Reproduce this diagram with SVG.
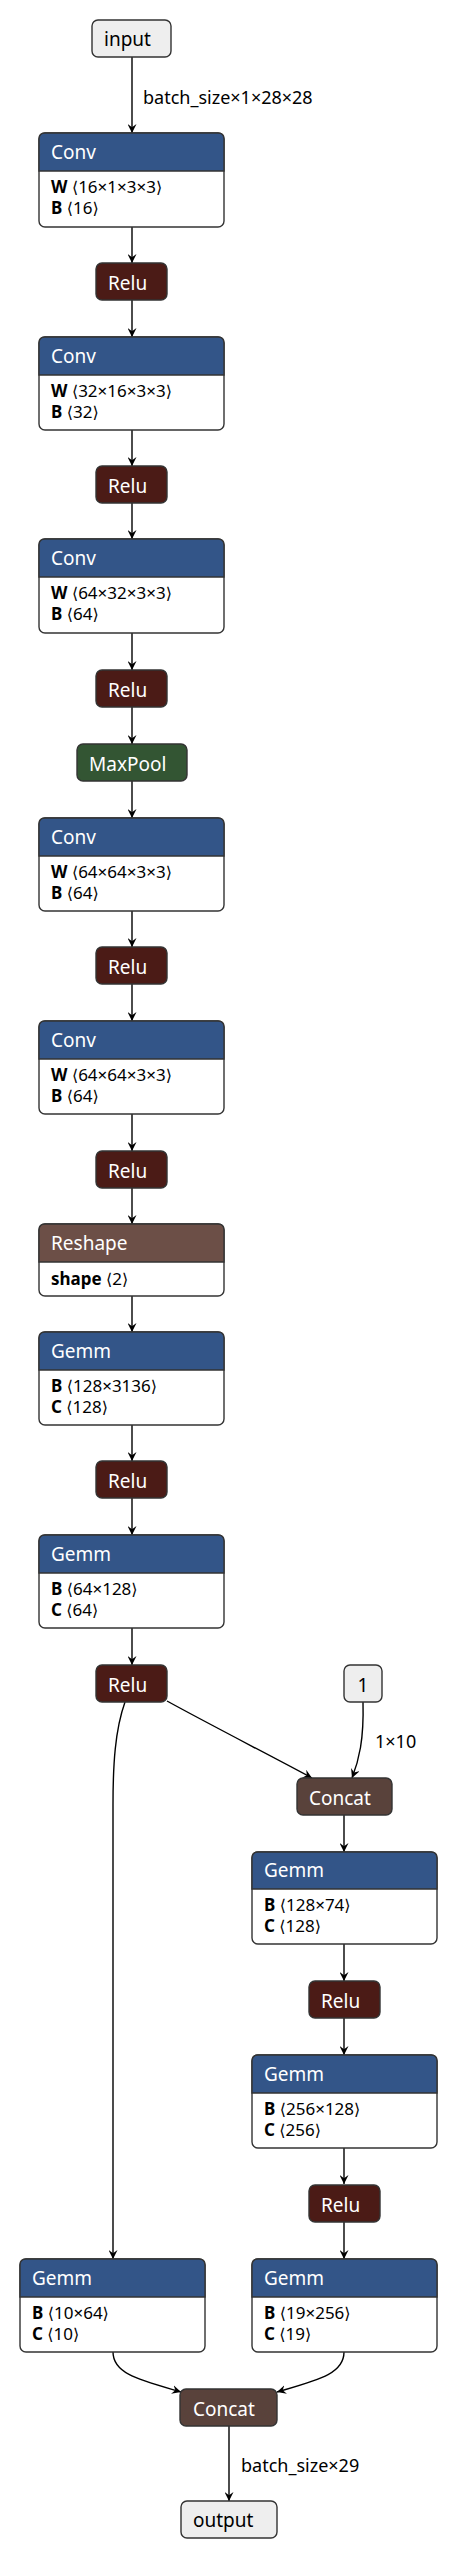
<svg xmlns="http://www.w3.org/2000/svg" width="459" height="2560" viewBox="0 0 459 2560">
<defs>
<style>
text{font-family:"Noto Sans","DejaVu Sans",sans-serif;}
.bg{fill:#ffffff;}
.box{stroke:#333333;stroke-width:1.4;}
.hd{fill:#ffffff;font-size:19px;}
.io{fill:#000000;font-size:19px;}
.bd{fill:#000000;font-size:17px;}
.bd tspan.n{font-weight:bold;}
.bd tspan.b{font-family:"DejaVu Sans",sans-serif;font-size:16px;}
.lbl{fill:#000000;font-size:18px;}
.layer{fill:#335588;}
.act{fill:#4b1b16;}
.pool{fill:#335533;}
.shape{fill:#6c4f47;}
.tensor{fill:#59423b;}
.inout{fill:#eeeeee;}
.white{fill:#ffffff;}
.e{fill:none;stroke:#000000;stroke-width:1.4;marker-end:url(#arr);}
</style>
<marker id="arr" viewBox="0 0 10 10" refX="10" refY="5" markerWidth="9" markerHeight="9" markerUnits="userSpaceOnUse" orient="auto">
<path d="M0,0 L10,5 L0,10 L3.5,5 z" fill="#000000"/>
</marker>
</defs>
<rect x="0" y="0" width="459" height="2560" class="bg"/>

<g id="edges">
<path class="e" d="M132,57 L132,133"/>
<path class="e" d="M132,227 L132,263"/>
<path class="e" d="M132,300 L132,337"/>
<path class="e" d="M132,430 L132,466"/>
<path class="e" d="M132,503 L132,539"/>
<path class="e" d="M132,633 L132,670"/>
<path class="e" d="M132,707 L132,744"/>
<path class="e" d="M132,781 L132,818"/>
<path class="e" d="M132,911 L132,947"/>
<path class="e" d="M132,984 L132,1021"/>
<path class="e" d="M132,1114 L132,1151"/>
<path class="e" d="M132,1188 L132,1224"/>
<path class="e" d="M132,1296 L132,1332"/>
<path class="e" d="M132,1425 L132,1461"/>
<path class="e" d="M132,1498 L132,1535"/>
<path class="e" d="M132,1628 L132,1665"/>
<path class="e" d="M125,1702 C115,1730 113,1765 113,1805 L113,2259"/>
<path class="e" d="M167,1701 C205,1722 275,1758 312,1778"/>
<path class="e" d="M363,1702 C364,1740 359,1760 352,1778"/>
<path class="e" d="M344,1815 L344,1852"/>
<path class="e" d="M344,1944 L344,1981"/>
<path class="e" d="M344,2018 L344,2055"/>
<path class="e" d="M344,2148 L344,2184"/>
<path class="e" d="M344,2222 L344,2259"/>
<path class="e" d="M113,2352 C113,2374 140,2380 181,2392"/>
<path class="e" d="M344,2352 C344,2374 318,2380 277,2392"/>
<path class="e" d="M229,2426 L229,2501"/>
<text class="lbl" x="143" y="104">batch_size×1×28×28</text>
<text class="lbl" x="375" y="1748">1×10</text>
<text class="lbl" x="241" y="2472">batch_size×29</text>
</g>

<g id="input">
<rect x="92" y="20" width="79" height="37" rx="6" class="inout box"/>
<text class="io" x="104" y="46">input</text>
</g>

<g id="conv1">
<rect x="39" y="133" width="185" height="94" rx="6" class="white box"/>
<path d="M39,171 L39,139 Q39,133 45,133 L218,133 Q224,133 224,139 L224,171 Z" class="layer box"/>
<text class="hd" x="51" y="159">Conv</text>
<text class="bd" x="51" y="193"><tspan class="n">W</tspan> <tspan class="b">⟨</tspan>16×1×3×3<tspan class="b">⟩</tspan></text>
<text class="bd" x="51" y="214"><tspan class="n">B</tspan> <tspan class="b">⟨</tspan>16<tspan class="b">⟩</tspan></text>
</g>
<g id="relu1">
<rect x="96" y="263" width="71" height="37" rx="6" class="act box"/>
<text class="hd" x="108" y="290">Relu</text>
</g>

<g id="conv2">
<rect x="39" y="337" width="185" height="93" rx="6" class="white box"/>
<path d="M39,375 L39,343 Q39,337 45,337 L218,337 Q224,337 224,343 L224,375 Z" class="layer box"/>
<text class="hd" x="51" y="363">Conv</text>
<text class="bd" x="51" y="397"><tspan class="n">W</tspan> <tspan class="b">⟨</tspan>32×16×3×3<tspan class="b">⟩</tspan></text>
<text class="bd" x="51" y="418"><tspan class="n">B</tspan> <tspan class="b">⟨</tspan>32<tspan class="b">⟩</tspan></text>
</g>
<g id="relu2">
<rect x="96" y="466" width="71" height="37" rx="6" class="act box"/>
<text class="hd" x="108" y="493">Relu</text>
</g>

<g id="conv3">
<rect x="39" y="539" width="185" height="94" rx="6" class="white box"/>
<path d="M39,577 L39,545 Q39,539 45,539 L218,539 Q224,539 224,545 L224,577 Z" class="layer box"/>
<text class="hd" x="51" y="565">Conv</text>
<text class="bd" x="51" y="599"><tspan class="n">W</tspan> <tspan class="b">⟨</tspan>64×32×3×3<tspan class="b">⟩</tspan></text>
<text class="bd" x="51" y="620"><tspan class="n">B</tspan> <tspan class="b">⟨</tspan>64<tspan class="b">⟩</tspan></text>
</g>
<g id="relu3">
<rect x="96" y="670" width="71" height="37" rx="6" class="act box"/>
<text class="hd" x="108" y="697">Relu</text>
</g>

<g id="maxpool">
<rect x="77" y="744" width="110" height="37" rx="6" class="pool box"/>
<text class="hd" x="89" y="771">MaxPool</text>
</g>

<g id="conv4">
<rect x="39" y="818" width="185" height="93" rx="6" class="white box"/>
<path d="M39,856 L39,824 Q39,818 45,818 L218,818 Q224,818 224,824 L224,856 Z" class="layer box"/>
<text class="hd" x="51" y="844">Conv</text>
<text class="bd" x="51" y="878"><tspan class="n">W</tspan> <tspan class="b">⟨</tspan>64×64×3×3<tspan class="b">⟩</tspan></text>
<text class="bd" x="51" y="899"><tspan class="n">B</tspan> <tspan class="b">⟨</tspan>64<tspan class="b">⟩</tspan></text>
</g>
<g id="relu4">
<rect x="96" y="947" width="71" height="37" rx="6" class="act box"/>
<text class="hd" x="108" y="974">Relu</text>
</g>

<g id="conv5">
<rect x="39" y="1021" width="185" height="93" rx="6" class="white box"/>
<path d="M39,1059 L39,1027 Q39,1021 45,1021 L218,1021 Q224,1021 224,1027 L224,1059 Z" class="layer box"/>
<text class="hd" x="51" y="1047">Conv</text>
<text class="bd" x="51" y="1081"><tspan class="n">W</tspan> <tspan class="b">⟨</tspan>64×64×3×3<tspan class="b">⟩</tspan></text>
<text class="bd" x="51" y="1102"><tspan class="n">B</tspan> <tspan class="b">⟨</tspan>64<tspan class="b">⟩</tspan></text>
</g>
<g id="relu5">
<rect x="96" y="1151" width="71" height="37" rx="6" class="act box"/>
<text class="hd" x="108" y="1178">Relu</text>
</g>

<g id="reshape">
<rect x="39" y="1224" width="185" height="72" rx="6" class="white box"/>
<path d="M39,1262 L39,1230 Q39,1224 45,1224 L218,1224 Q224,1224 224,1230 L224,1262 Z" class="shape box"/>
<text class="hd" x="51" y="1250">Reshape</text>
<text class="bd" x="51" y="1285"><tspan class="n">shape</tspan> <tspan class="b">⟨</tspan>2<tspan class="b">⟩</tspan></text>
</g>

<g id="gemm1">
<rect x="39" y="1332" width="185" height="93" rx="6" class="white box"/>
<path d="M39,1370 L39,1338 Q39,1332 45,1332 L218,1332 Q224,1332 224,1338 L224,1370 Z" class="layer box"/>
<text class="hd" x="51" y="1358">Gemm</text>
<text class="bd" x="51" y="1392"><tspan class="n">B</tspan> <tspan class="b">⟨</tspan>128×3136<tspan class="b">⟩</tspan></text>
<text class="bd" x="51" y="1413"><tspan class="n">C</tspan> <tspan class="b">⟨</tspan>128<tspan class="b">⟩</tspan></text>
</g>
<g id="relu6">
<rect x="96" y="1461" width="71" height="37" rx="6" class="act box"/>
<text class="hd" x="108" y="1488">Relu</text>
</g>

<g id="gemm2">
<rect x="39" y="1535" width="185" height="93" rx="6" class="white box"/>
<path d="M39,1573 L39,1541 Q39,1535 45,1535 L218,1535 Q224,1535 224,1541 L224,1573 Z" class="layer box"/>
<text class="hd" x="51" y="1561">Gemm</text>
<text class="bd" x="51" y="1595"><tspan class="n">B</tspan> <tspan class="b">⟨</tspan>64×128<tspan class="b">⟩</tspan></text>
<text class="bd" x="51" y="1616"><tspan class="n">C</tspan> <tspan class="b">⟨</tspan>64<tspan class="b">⟩</tspan></text>
</g>
<g id="relu7">
<rect x="96" y="1665" width="71" height="37" rx="6" class="act box"/>
<text class="hd" x="108" y="1692">Relu</text>
</g>

<g id="const1">
<rect x="344" y="1665" width="38" height="37" rx="6" class="inout box"/>
<text class="io" x="363" y="1692" text-anchor="middle">1</text>
</g>

<g id="concat1">
<rect x="297" y="1778" width="95" height="37" rx="6" class="tensor box"/>
<text class="hd" x="309" y="1805">Concat</text>
</g>

<g id="gemm3">
<rect x="252" y="1852" width="185" height="92" rx="6" class="white box"/>
<path d="M252,1889 L252,1858 Q252,1852 258,1852 L431,1852 Q437,1852 437,1858 L437,1889 Z" class="layer box"/>
<text class="hd" x="264" y="1877">Gemm</text>
<text class="bd" x="264" y="1911"><tspan class="n">B</tspan> <tspan class="b">⟨</tspan>128×74<tspan class="b">⟩</tspan></text>
<text class="bd" x="264" y="1932"><tspan class="n">C</tspan> <tspan class="b">⟨</tspan>128<tspan class="b">⟩</tspan></text>
</g>
<g id="relu8">
<rect x="309" y="1981" width="71" height="37" rx="6" class="act box"/>
<text class="hd" x="321" y="2008">Relu</text>
</g>

<g id="gemm4">
<rect x="252" y="2055" width="185" height="93" rx="6" class="white box"/>
<path d="M252,2093 L252,2061 Q252,2055 258,2055 L431,2055 Q437,2055 437,2061 L437,2093 Z" class="layer box"/>
<text class="hd" x="264" y="2081">Gemm</text>
<text class="bd" x="264" y="2115"><tspan class="n">B</tspan> <tspan class="b">⟨</tspan>256×128<tspan class="b">⟩</tspan></text>
<text class="bd" x="264" y="2136"><tspan class="n">C</tspan> <tspan class="b">⟨</tspan>256<tspan class="b">⟩</tspan></text>
</g>
<g id="relu9">
<rect x="309" y="2185" width="71" height="37" rx="6" class="act box"/>
<text class="hd" x="321" y="2212">Relu</text>
</g>

<g id="gemm5">
<rect x="20" y="2259" width="185" height="93" rx="6" class="white box"/>
<path d="M20,2297 L20,2265 Q20,2259 26,2259 L199,2259 Q205,2259 205,2265 L205,2297 Z" class="layer box"/>
<text class="hd" x="32" y="2285">Gemm</text>
<text class="bd" x="32" y="2319"><tspan class="n">B</tspan> <tspan class="b">⟨</tspan>10×64<tspan class="b">⟩</tspan></text>
<text class="bd" x="32" y="2340"><tspan class="n">C</tspan> <tspan class="b">⟨</tspan>10<tspan class="b">⟩</tspan></text>
</g>

<g id="gemm6">
<rect x="252" y="2259" width="185" height="93" rx="6" class="white box"/>
<path d="M252,2297 L252,2265 Q252,2259 258,2259 L431,2259 Q437,2259 437,2265 L437,2297 Z" class="layer box"/>
<text class="hd" x="264" y="2285">Gemm</text>
<text class="bd" x="264" y="2319"><tspan class="n">B</tspan> <tspan class="b">⟨</tspan>19×256<tspan class="b">⟩</tspan></text>
<text class="bd" x="264" y="2340"><tspan class="n">C</tspan> <tspan class="b">⟨</tspan>19<tspan class="b">⟩</tspan></text>
</g>

<g id="concat2">
<rect x="180" y="2389" width="97" height="37" rx="6" class="tensor box"/>
<text class="hd" x="193" y="2416">Concat</text>
</g>

<g id="output">
<rect x="181" y="2501" width="96" height="37" rx="6" class="inout box"/>
<text class="io" x="193" y="2527">output</text>
</g>
</svg>
